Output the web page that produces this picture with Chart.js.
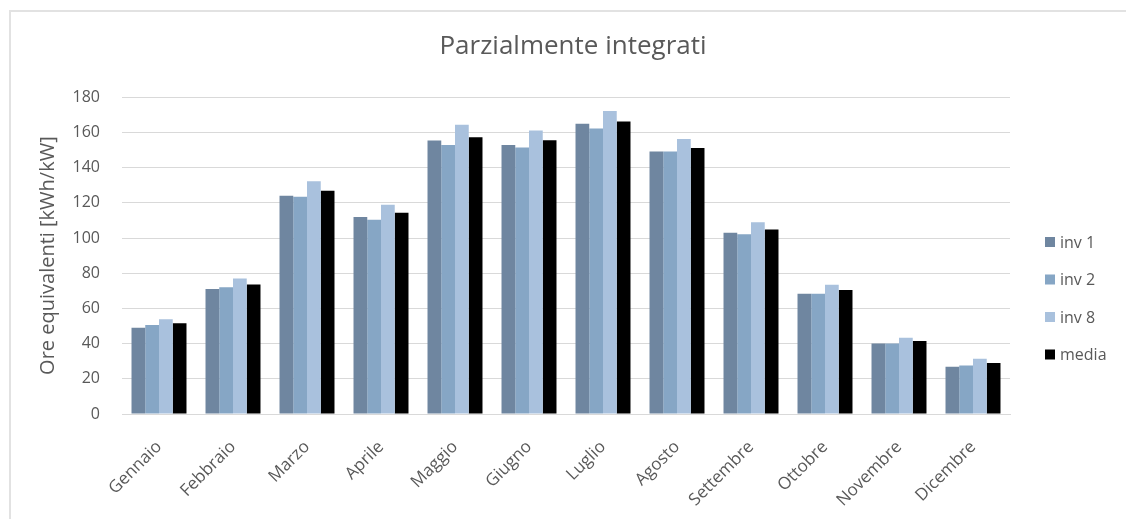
<!DOCTYPE html>
<html>
<head>
<meta charset="utf-8">
<script src="https://cdn.jsdelivr.net/npm/chart.js@4"></script>
<style>
    html, body { margin: 0; padding: 0; background: #fff; overflow: hidden; }
    #wrap { position: absolute; left: 0; top: 0; width: 1126px; height: 519px; }
    #frame { position: absolute; left: 9px; top: 10px; width: 1200px; height: 600px;
             border-left: 2px solid #e2e2e2; border-top: 2px solid #e2e2e2; }
</style>
</head>
<body>
<div id="frame"></div>
<div id="wrap"><canvas id="chart"></canvas></div>
<script>
// Chart data
const months = ['Gennaio', 'Febbraio', 'Marzo', 'Aprile', 'Maggio', 'Giugno',
    'Luglio', 'Agosto', 'Settembre', 'Ottobre', 'Novembre', 'Dicembre'];
const inv1 = [49, 71, 124, 112, 155.4, 152.9, 164.9, 149.2, 103, 68.3, 40.1, 26.9];
const inv2 = [50.5, 72, 123.4, 110.4, 152.8, 151.4, 162.2, 149.2, 102.2, 68.3, 40, 27.5];
const inv8 = [53.8, 77, 132.3, 118.9, 164.3, 161.1, 172.2, 156.2, 108.9, 73.4, 43.3, 31.4];
const media = [51.5, 73.6, 126.8, 114.3, 157.3, 155.6, 166.2, 151.2, 104.9, 70.4, 41.5, 29];
const seriesNames = ['inv 1', 'inv 2', 'inv 8', 'media'];
const seriesColors = ['#6f86a0', '#86a6c5', '#a9c1dd', '#000000'];

const textColor = '#595959';
const fontFamily = '"Open Sans", sans-serif';

// legend drawn by hand in the space kept free by the right axis
const sideLegend = {
    id: 'sideLegend',
    afterDraw(chart) {
        const ctx = chart.ctx;
        const x0 = chart.chartArea.right + 35;
        ctx.save();
        ctx.font = '16px ' + fontFamily;
        ctx.textBaseline = 'middle';
        chart.data.datasets.forEach((ds, i) => {
            const y = 242 + i * 37.5;
            ctx.fillStyle = ds.backgroundColor;
            ctx.fillRect(x0, y - 5, 10, 10);
            ctx.fillStyle = textColor;
            ctx.fillText(ds.label, x0 + 15, y + 1);
        });
        ctx.restore();
    }
};

const datasets = [inv1, inv2, inv8, media].map((values, i) => ({
    label: seriesNames[i],
    data: values,
    backgroundColor: seriesColors[i],
    borderWidth: 0,
    categoryPercentage: 0.743,
    barPercentage: 1.0
}));

new Chart(document.getElementById('chart'), {
    type: 'bar',
    data: { labels: months, datasets: datasets },
    options: {
        responsive: true,
        maintainAspectRatio: false,
        animation: false,
        layout: { padding: { left: 20, right: 0, top: 0, bottom: 0 } },
        plugins: {
            legend: { display: false },
            tooltip: { enabled: false },
            title: {
                display: true,
                text: 'Parzialmente integrati',
                color: textColor,
                font: { family: fontFamily, size: 26, weight: 'normal' },
                padding: { top: 31, bottom: 35 }
            }
        },
        scales: {
            x: {
                grid: { display: false, drawTicks: false },
                border: { color: '#d9d9d9', width: 1 },
                ticks: {
                    color: textColor,
                    font: { family: fontFamily, size: 17 },
                    minRotation: 45,
                    maxRotation: 45,
                    padding: 23
                },
                // fit() counts the tick padding twice, so fix the band height
                afterFit(scale) { scale.height = 105; }
            },
            y: {
                min: 0,
                max: 180,
                grid: { color: '#d9d9d9', drawTicks: false },
                border: { display: false },
                ticks: {
                    stepSize: 20,
                    color: textColor,
                    font: { family: fontFamily, size: 16 },
                    padding: 22
                },
                title: {
                    display: true,
                    text: 'Ore equivalenti [kWh/kW]',
                    color: textColor,
                    font: { family: fontFamily, size: 20 },
                    padding: { top: 16, bottom: 12 }
                },
                afterFit(scale) { scale.width = 102; }
            },
            legendSpace: {
                type: 'linear',
                position: 'right',
                grid: { display: false },
                border: { display: false },
                ticks: { display: false },
                afterFit(scale) { scale.width = 116; }
            }
        }
    },
    plugins: [sideLegend]
});
</script>
</body>
</html>
